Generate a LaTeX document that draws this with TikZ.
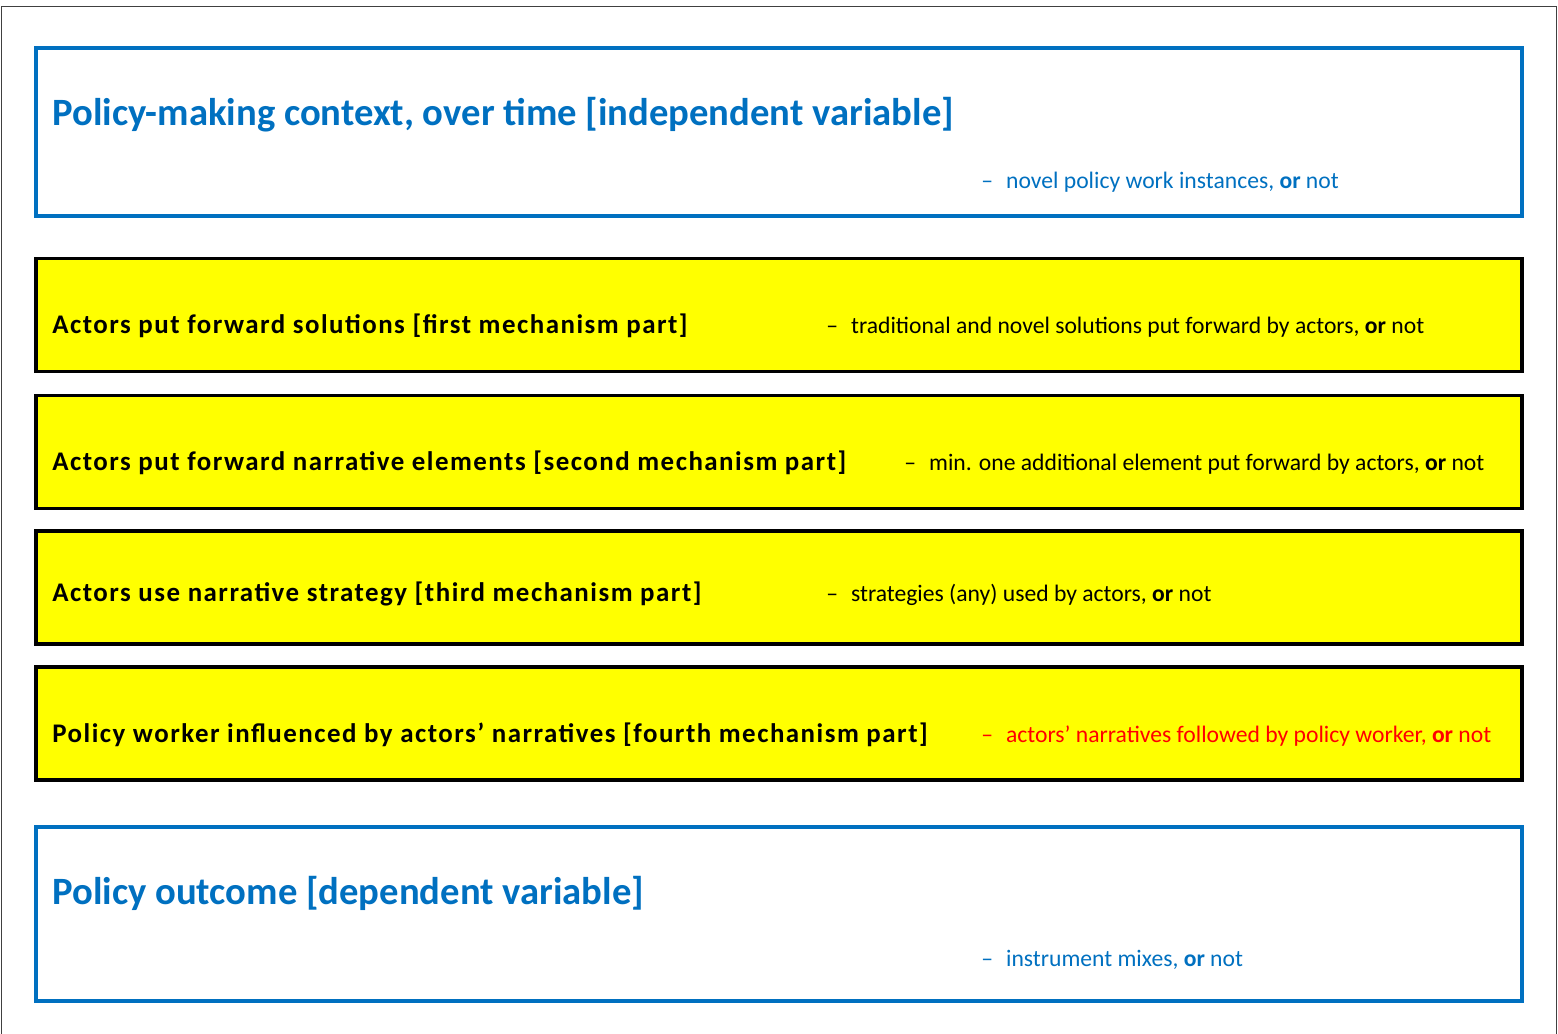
\documentclass[tikz,border=0pt]{standalone}
\usepackage{fontspec}
\setmainfont{Carlito}
\newfontfamily\mechfont[LetterSpace=5.6]{Carlito}
\usepackage{tikz}
\definecolor{pblue}{HTML}{0070C0}
\definecolor{pyellow}{HTML}{FFFF00}
\definecolor{pred}{HTML}{FF0000}
\tikzset{
	varbox/.style={draw=pblue, line width=2pt, minimum width=29.72cm, inner sep=0pt},
	mechbox/.style={draw=black, fill=pyellow, line width=2pt, minimum width=29.72cm, minimum height=2.26cm, inner sep=0pt},
	vartitle/.style={anchor=base west, inner sep=0pt, text=pblue, font=\bfseries\fontsize{22}{26}\selectfont},
	mechtitle/.style={anchor=base west, inner sep=0pt, font=\mechfont\bfseries\fontsize{15.3}{18}\selectfont},
	note/.style={anchor=base west, inner sep=0pt, font=\fontsize{13.45}{16}\selectfont}
}
\newcommand{\notedash}{--\hspace{0.55em}}

\begin{document}
\begin{tikzpicture}
	\useasboundingbox (0,0) rectangle (31.16,-20.68);
	\draw[line width=0.7pt, black!75] (0.03,-20.68) |- (31.13,-0.13) -- (31.13,-20.68);

	\node[varbox, minimum height=3.36cm] (context) at (15.58,-2.64) {};
	\node[mechbox] (first)  at (15.58,-6.30)  {};
	\node[mechbox] (second) at (15.58,-9.04)  {};
	\node[mechbox] (third)  at (15.58,-11.75) {};
	\node[mechbox] (fourth) at (15.58,-14.47) {};
	\node[varbox, minimum height=3.48cm] (outcome) at (15.58,-18.28) {};

	\node[vartitle] (contexttitle) at (1.04,-2.52) {Policy-making context, over time [independent variable]};
	\node[note, text=pblue] (contextnote) at (19.62,-3.78) {\notedash novel policy work instances, \textbf{or} not};

	\node[mechtitle] (firsttitle) at (1.04,-6.68) {Actors put forward solutions [first mechanism part]};
	\node[note] (firstnote) at (16.52,-6.68) {\notedash traditional and novel solutions put forward by actors, \textbf{or} not};

	\node[mechtitle] (secondtitle) at (1.04,-9.42) {Actors put forward narrative elements [second mechanism part]};
	\node[note] (secondnote) at (18.08,-9.42) {\notedash min. one additional element put forward by actors, \textbf{or} not};

	\node[mechtitle] (thirdtitle) at (1.04,-12.04) {Actors use narrative strategy [third mechanism part]};
	\node[note] (thirdnote) at (16.52,-12.04) {\notedash strategies (any) used by actors, \textbf{or} not};

	\node[mechtitle] (fourthtitle) at (1.04,-14.86) {Policy worker influenced by actors’ narratives [fourth mechanism part]};
	\node[note, text=pred] (fourthnote) at (19.62,-14.86) {\notedash actors’ narratives followed by policy worker, \textbf{or} not};

	\node[vartitle] (outcometitle) at (1.04,-18.10) {Policy outcome [dependent variable]};
	\node[note, text=pblue] (outcomenote) at (19.62,-19.34) {\notedash instrument mixes, \textbf{or} not};
\end{tikzpicture}
\end{document}
